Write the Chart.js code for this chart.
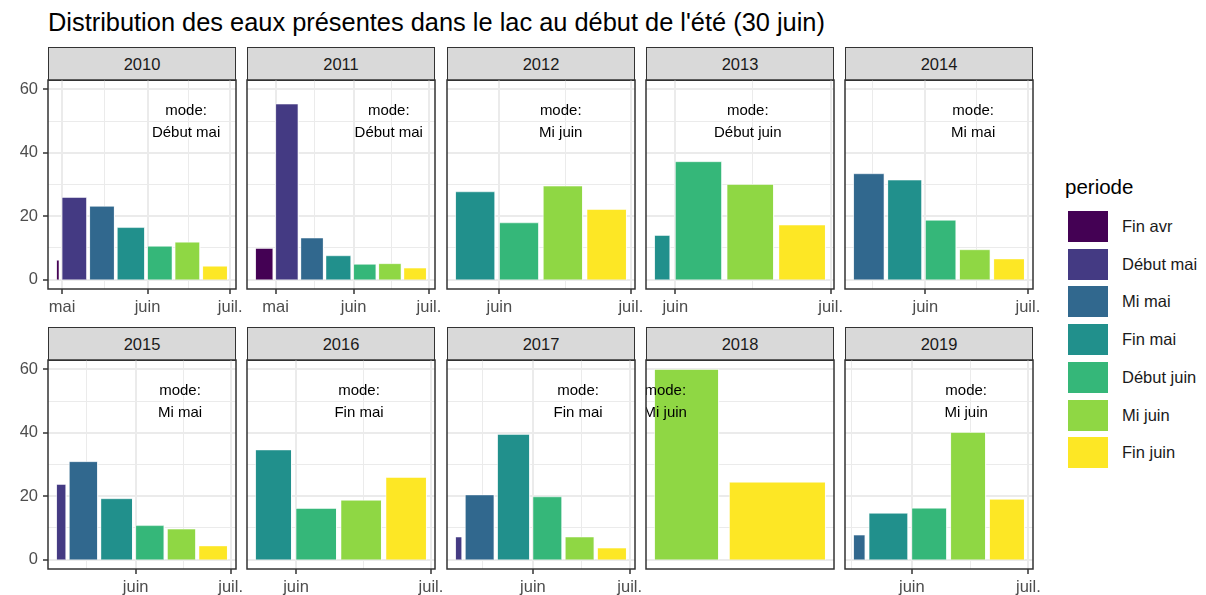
<!DOCTYPE html>
<html lang="fr">
<head>
<meta charset="utf-8">
<title>Distribution des eaux présentes dans le lac</title>
<script src="https://cdn.jsdelivr.net/npm/chart.js@4.4.1/dist/chart.umd.min.js"></script>
<style>
  body { margin: 0; background: #fff; overflow: hidden; }
  #figure { position: relative; width: 1206px; height: 595px; font-family: 'Liberation Sans', Arial, sans-serif; }
  #titre { position: absolute; left: 48px; top: 10px; font-size: 25.4px; line-height: 25.4px; color: #000; white-space: nowrap; }
  .bandeau { position: absolute; box-sizing: border-box; background: #d9d9d9; border: 1.5px solid #333; color: #1a1a1a;
             font-size: 16.5px; display: flex; align-items: center; justify-content: center; }
  canvas { position: absolute; }
  #titre-legende { position: absolute; left: 1065px; top: 177px; font-size: 20.5px; line-height: 20.5px; color: #000; }
  .cle { position: absolute; left: 1067px; width: 42px; height: 33px; box-sizing: border-box; border: 1px solid #fff; }
  .etiquette { position: absolute; left: 1122px; height: 33px; display: flex; align-items: center; font-size: 16.5px; color: #1a1a1a; white-space: nowrap; }
</style>
</head>
<body>
<div id="figure">
  <div id="titre">Distribution des eaux présentes dans le lac au début de l'été (30 juin)</div>
  <div id="titre-legende">periode</div>
</div>
<script>
const annees = ['2010', '2011', '2012', '2013', '2014', '2015', '2016', '2017', '2018', '2019'];
const periodes = ['Fin avr', 'Début mai', 'Mi mai', 'Fin mai', 'Début juin', 'Mi juin', 'Fin juin'];
const couleurs = ['#440154', '#443A83', '#31688E', '#21908C', '#35B779', '#8FD744', '#FDE725'];

// jours comptés depuis le 1er mai (0 = 1er mai, 31 = 1er juin, 60 = 30 juin)
const debutPeriode = [-10, 0, 10, 20, 31, 41, 51];
const finPeriode = [-1, 9, 19, 30, 40, 50, 60];
// premier jour de mesure de chaque année
const premierJour = [-2, -8, 21, 27, 10, 6, 22, 7, 44, 16];

// part des eaux (%) par période
const v2010 = [6.1, 25.9, 23.1, 16.4, 10.5, 11.8, 4.2];
const v2011 = [9.8, 55.4, 13.1, 7.5, 4.8, 5.0, 3.6];
const v2012 = [null, null, null, 27.7, 17.9, 29.5, 22.1];
const v2013 = [null, null, null, 13.9, 37.2, 30.0, 17.2];
const v2014 = [null, null, 33.4, 31.4, 18.7, 9.4, 6.5];
const v2015 = [null, 23.7, 30.9, 19.2, 10.7, 9.6, 4.3];
const v2016 = [null, null, null, 34.6, 16.1, 18.7, 25.9];
const v2017 = [null, 7.1, 20.4, 39.5, 19.8, 7.1, 3.6];
const v2018 = [null, null, null, null, null, 60.0, 24.4];
const v2019 = [null, null, 7.7, 14.6, 16.2, 40.1, 19.0];
const series = [v2010, v2011, v2012, v2013, v2014, v2015, v2016, v2017, v2018, v2019];

const modes = ['Début mai', 'Début mai', 'Mi juin', 'Début juin', 'Mi mai', 'Mi mai', 'Fin mai', 'Fin mai', 'Mi juin', 'Mi juin'];
const jourMode = 45;     // 15 juin
const niveauMode = 50;

const debutMois = [-30, 0, 31, 61];
const etiquettesMois = ['avr.', 'mai', 'juin', 'juil.'];
const ticksY = [0, 20, 40, 60];
const grilleY = [0, 10, 20, 30, 40, 50, 60];

const figure = document.getElementById('figure');
const police = "'Liberation Sans', Arial, sans-serif";

// grille des panneaux
const gauchePanneaux = 48, pasColonne = 199.25, largeurPanneau = 188;
const hautBandeau = 47, hauteurBandeau = 33, hauteurPanneau = 209, pasLigne = 280;
const padH = 2, padD = 14, hauteurAxeX = 30;

Chart.defaults.font.family = police;
Chart.defaults.color = '#4d4d4d';

const yMax = Math.max(...series.flat().filter(v => v !== null));
const yBas = -0.05 * yMax, yHaut = 1.05 * yMax;

function ticksX(min, max) {
  const majeurs = debutMois.filter(j => j >= min && j <= max);
  const mineurs = [];
  if (majeurs.length) {
    for (let i = 0; i < debutMois.length - 1; i++) {
      const m = (debutMois[i] + debutMois[i + 1]) / 2;
      if (m >= min && m <= max) mineurs.push(m);
    }
  }
  return majeurs.concat(mineurs).sort((a, b) => a - b).map(value => ({ value }));
}

function rectangles(k) {
  const jeux = [];
  series[k].forEach((val, i) => {
    if (val === null) return;
    const debut = Math.max(debutPeriode[i], premierJour[k]);
    const fin = finPeriode[i];
    jeux.push({
      label: periodes[i],
      data: [{ x: debut, y: 0 }, { x: debut, y: val }, { x: fin, y: val }, { x: fin, y: 0 }],
      backgroundColor: couleurs[i],
      borderColor: '#ffffff',
      borderWidth: 0.5,
      fill: 'origin',
      pointRadius: 0,
      tension: 0
    });
  });
  return jeux;
}

// cadre du panneau + étiquette du mode
const cadrePanneau = {
  id: 'cadrePanneau',
  afterDatasetsDraw(chart, args, opts) {
    const { ctx, chartArea } = chart;
    const px = chart.scales.x.getPixelForValue(jourMode);
    const py = chart.scales.y.getPixelForValue(niveauMode);
    ctx.save();
    ctx.beginPath();
    ctx.rect(chartArea.left, chartArea.top, chartArea.right - chartArea.left, chartArea.bottom - chartArea.top);
    ctx.clip();
    ctx.fillStyle = '#000';
    ctx.font = '15px ' + police;
    ctx.textAlign = 'center';
    ctx.textBaseline = 'middle';
    ctx.fillText('mode:', px, py - 10);
    ctx.fillText(opts.mode, px, py + 11.5);
    ctx.restore();
  },
  afterDraw(chart) {
    const { ctx, chartArea } = chart;
    ctx.save();
    ctx.strokeStyle = '#333333';
    ctx.lineWidth = 1.5;
    ctx.strokeRect(chartArea.left, chartArea.top, chartArea.right - chartArea.left, chartArea.bottom - chartArea.top);
    ctx.restore();
  }
};

const estMajeurX = c => c.tick && debutMois.includes(c.tick.value);
const estMajeurY = c => c.tick && ticksY.includes(c.tick.value);

annees.forEach((annee, k) => {
  const col = k % 5, ligne = Math.floor(k / 5);
  const gauche = Math.round(gauchePanneaux + col * pasColonne);
  const haut = hautBandeau + ligne * pasLigne + hauteurBandeau;

  const bandeau = document.createElement('div');
  bandeau.className = 'bandeau';
  bandeau.textContent = annee;
  bandeau.style.left = gauche + 'px';
  bandeau.style.top = (haut - hauteurBandeau) + 'px';
  bandeau.style.width = largeurPanneau + 'px';
  bandeau.style.height = (hauteurBandeau + 1) + 'px';
  figure.appendChild(bandeau);

  const padG = col === 0 ? 0 : 6;
  const largeurAxeY = col === 0 ? gauche : 0;
  const canvas = document.createElement('canvas');
  canvas.width = largeurAxeY + padG + largeurPanneau + padD;
  canvas.height = padH + hauteurPanneau + hauteurAxeX;
  canvas.style.left = (gauche - largeurAxeY - padG) + 'px';
  canvas.style.top = (haut - padH) + 'px';
  figure.appendChild(canvas);

  const etendue = finPeriode[finPeriode.length - 1] - premierJour[k];
  const xMin = premierJour[k] - 0.05 * etendue;
  const xMax = finPeriode[finPeriode.length - 1] + 0.05 * etendue;

  new Chart(canvas, {
    type: 'line',
    data: { datasets: rectangles(k) },
    plugins: [cadrePanneau],
    options: {
      responsive: false,
      animation: false,
      layout: { padding: { left: padG, right: padD, top: padH, bottom: 0 } },
      plugins: {
        legend: { display: false },
        tooltip: { enabled: false },
        cadrePanneau: { mode: modes[k] }
      },
      scales: {
        x: {
          type: 'linear',
          min: xMin,
          max: xMax,
          border: { display: false },
          afterBuildTicks: s => { s.ticks = ticksX(s.min, s.max); },
          afterFit: s => { s.height = hauteurAxeX; s.paddingLeft = 0; s.paddingRight = 0; },
          ticks: {
            autoSkip: false,
            maxRotation: 0,
            padding: 4,
            color: '#4d4d4d',
            font: { size: 16.5 },
            callback: v => {
              const i = debutMois.indexOf(v);
              return i >= 0 ? etiquettesMois[i] : '';
            }
          },
          grid: {
            color: '#ebebeb',
            lineWidth: c => estMajeurX(c) ? 2 : 1,
            tickLength: 5,
            tickWidth: 1.5,
            tickColor: c => estMajeurX(c) ? '#333333' : 'rgba(0,0,0,0)'
          }
        },
        y: {
          min: yBas,
          max: yHaut,
          border: { display: false },
          afterBuildTicks: s => { s.ticks = grilleY.map(value => ({ value })); },
          afterFit: s => { s.width = largeurAxeY; s.paddingTop = 0; s.paddingBottom = 0; },
          ticks: {
            display: col === 0,
            padding: 5,
            color: '#4d4d4d',
            font: { size: 16.5 },
            callback: v => ticksY.includes(v) ? String(v) : ''
          },
          grid: {
            color: '#ebebeb',
            lineWidth: c => estMajeurY(c) ? 2 : 1,
            drawTicks: col === 0,
            tickLength: 5,
            tickWidth: 1.5,
            tickColor: c => estMajeurY(c) ? '#333333' : 'rgba(0,0,0,0)'
          }
        }
      }
    }
  });
});

// légende des périodes
periodes.forEach((p, i) => {
  const top = 210 + i * 37.7;
  const cle = document.createElement('div');
  cle.className = 'cle';
  cle.style.top = top + 'px';
  cle.style.background = couleurs[i];
  figure.appendChild(cle);
  const etiquette = document.createElement('div');
  etiquette.className = 'etiquette';
  etiquette.style.top = top + 'px';
  etiquette.textContent = p;
  figure.appendChild(etiquette);
});
</script>
</body>
</html>
